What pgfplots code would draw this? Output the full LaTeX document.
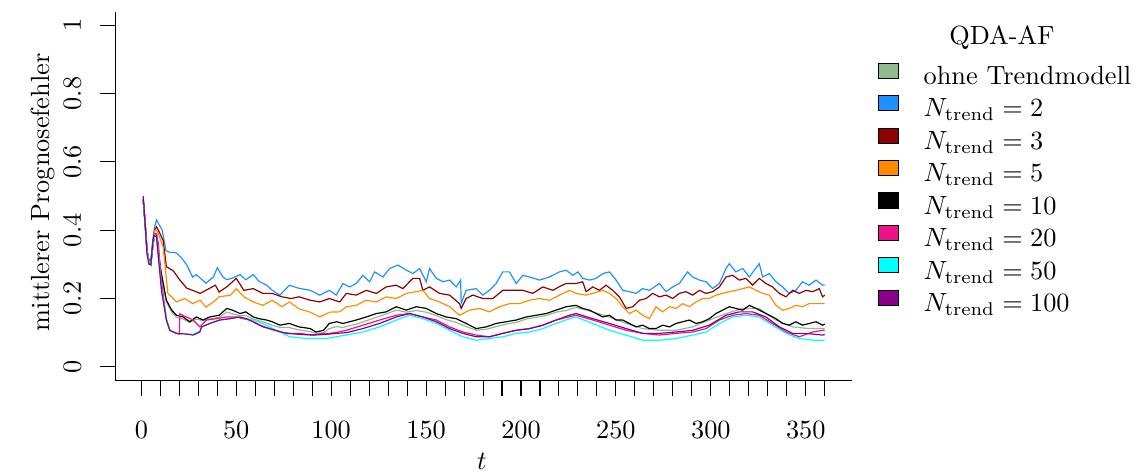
\documentclass[border=0pt]{standalone}
\usepackage{pgfplots}
\pgfplotsset{compat=1.18}
\definecolor{cOhne}{RGB}{143,188,143}
\definecolor{cTwo}{RGB}{30,144,255}
\definecolor{cThree}{RGB}{139,0,0}
\definecolor{cFive}{RGB}{255,140,0}
\definecolor{cTwenty}{RGB}{238,18,137}
\definecolor{cFifty}{RGB}{0,255,255}
\definecolor{cHundred}{RGB}{139,0,139}

\begin{document}
\begin{tikzpicture}
\begin{axis}[
  name=ax, at={(0,0)}, anchor=south west,
  scale only axis, width=279.9pt, height=140.3pt,
  xmin=-13.36, xmax=374.36, ymin=-0.04, ymax=1.04,
  axis x line*=bottom, axis y line*=left,
  axis line style={-, line width=0.4pt},
  tick align=outside, major tick length=6pt, minor tick length=6pt,
  tick style={black, line width=0.4pt},
  xtick={0,50,...,350},
  minor xtick={10,20,30,40,60,70,80,90,110,120,130,140,160,170,180,190,210,220,230,240,260,270,280,290,310,320,330,340,360},
  ytick={0,0.2,0.4,0.6,0.8,1},
  xticklabel style={anchor=base}, xticklabel shift=15.9pt,
  yticklabel style={rotate=90, anchor=base}, yticklabel shift=7.3pt,
  xlabel={$t$}, ylabel={mittlerer Prognosefehler},
  every axis x label/.style={at={(rel axis cs:0.497,-0.240)}, anchor=base},
  every axis y label/.style={at={(rel axis cs:-0.0897,0.51)}, rotate=90, anchor=base},
  legend style={at={(rel axis cs:1.0353,0.8618)}, anchor=north west, draw=none, fill=none,
    inner sep=0pt, outer sep=0pt, row sep=0pt, column sep=9.4pt,
    nodes={inner sep=0pt, text height=8.2pt, text depth=4pt}},
  legend cell align=left,
  legend image code/.code={\filldraw[#1, draw=black, line width=0.4pt] (0pt,0.35pt) rectangle (7.6pt,6.05pt);},
  every axis plot/.append style={line width=0.45pt},
]
% ohne Trendmodell
\addplot[cOhne] coordinates {(1,0.49) (2,0.42) (3,0.34) (4,0.31) (5,0.30) (6,0.35) (7,0.39) (8,0.39) (9,0.32) (10.6,0.26) (13.2,0.19) (16,0.16) (18.5,0.145) (22,0.14) (25.5,0.13) (29,0.14) (32.5,0.135) (36,0.14) (41,0.145) (45,0.16) (48,0.155) (52,0.15) (55,0.15) (59,0.14) (62,0.135) (66,0.128) (69,0.122) (73,0.115) (78,0.115) (83,0.108) (89,0.103) (92,0.098) (96,0.1) (99,0.112) (103,0.118) (106,0.115) (113.2,0.125) (118.5,0.135) (123.8,0.145) (129,0.155) (134.3,0.166) (139.6,0.16) (144.8,0.165) (150.1,0.16) (155.4,0.15) (160.6,0.138) (165.9,0.13) (171.1,0.118) (176.4,0.107) (181.7,0.11) (186.9,0.118) (192.2,0.125) (197.5,0.13) (202.7,0.14) (208,0.145) (213.2,0.15) (218.5,0.16) (223.8,0.165) (229,0.174) (237.8,0.161) (246.6,0.146) (255.4,0.127) (264.1,0.112) (272.9,0.107) (281.7,0.107) (290.4,0.117) (299.2,0.137) (308,0.156) (316.8,0.171) (325.5,0.171) (334.3,0.137) (343.1,0.117) (351.8,0.112) (358.9,0.112) (360,0.112)};
\addlegendentry{ohne Trendmodell}
% N = 2
\addplot[cTwo] coordinates {(1,0.49) (2,0.42) (3,0.34) (4,0.31) (5,0.31) (6,0.37) (7,0.41) (8,0.43) (9,0.42) (11,0.40) (12,0.37) (13,0.34) (15,0.335) (17,0.335) (18.5,0.333) (21,0.32) (24,0.298) (27,0.263) (29,0.27) (31,0.26) (34,0.245) (38,0.263) (40,0.29) (43,0.263) (45,0.255) (48,0.26) (52,0.27) (55,0.255) (59,0.27) (62,0.25) (66,0.239) (69,0.224) (73,0.21) (78,0.239) (83,0.23) (89,0.224) (94,0.21) (99,0.224) (102.7,0.21) (106.2,0.244) (109.7,0.234) (113.2,0.244) (116.7,0.268) (120.3,0.249) (122.9,0.278) (127.3,0.263) (130.8,0.288) (135.2,0.298) (139.6,0.283) (143.1,0.273) (146.6,0.288) (150.1,0.249) (151.8,0.288) (155.4,0.259) (158.9,0.249) (162.4,0.254) (165.9,0.234) (168.2,0.254) (168.5,0.186) (171.1,0.224) (176.4,0.229) (179.9,0.21) (183.4,0.224) (186.9,0.244) (190.4,0.278) (193.9,0.278) (197.5,0.244) (201,0.268) (204.5,0.263) (209.7,0.254) (215,0.263) (220.3,0.278) (223.8,0.283) (227.3,0.268) (230,0.278) (232.5,0.259) (236.1,0.254) (239.6,0.259) (243.1,0.273) (246.6,0.278) (250.1,0.254) (253.6,0.224) (257.1,0.22) (260.6,0.215) (264.1,0.229) (267.6,0.224) (272.9,0.244) (276.4,0.22) (279.9,0.234) (283.4,0.244) (287.8,0.278) (290.4,0.263) (294,0.254) (297.5,0.249) (301,0.229) (304.5,0.244) (308,0.288) (309.7,0.302) (313.2,0.278) (316.8,0.288) (320.3,0.263) (322.9,0.283) (325.5,0.302) (327.3,0.263) (330.8,0.273) (334.3,0.249) (337.8,0.234) (341.3,0.215) (344.8,0.224) (348.3,0.249) (351.8,0.239) (355.4,0.254) (358.9,0.239) (360,0.24)};
\addlegendentry{$N_{\mathrm{trend}}=2$}
% N = 3
\addplot[cThree] coordinates {(1,0.49) (2,0.42) (3,0.34) (4,0.31) (5,0.30) (6,0.36) (7,0.40) (8,0.41) (9,0.40) (11.5,0.37) (13.2,0.293) (16,0.284) (17,0.28) (20.3,0.254) (24,0.23) (27,0.224) (31,0.215) (34,0.224) (39,0.239) (41,0.219) (45,0.234) (50,0.259) (54,0.224) (59,0.229) (64,0.215) (69,0.215) (74,0.205) (79,0.2) (83,0.205) (89,0.195) (94,0.19) (99,0.2) (104.5,0.19) (108,0.215) (113.2,0.21) (118.5,0.224) (123.8,0.215) (129,0.234) (134.3,0.239) (137.8,0.229) (143,0.259) (146.6,0.259) (148.3,0.224) (151.8,0.234) (157.1,0.215) (162.4,0.21) (167.6,0.185) (168.5,0.171) (171.1,0.2) (174.6,0.21) (179.9,0.2) (185.2,0.2) (190.4,0.224) (195.7,0.224) (201,0.224) (206.2,0.215) (211.5,0.234) (216.8,0.224) (220.3,0.235) (223.8,0.244) (229,0.244) (232.5,0.249) (234.3,0.22) (237.8,0.234) (241.3,0.224) (244.8,0.239) (248.3,0.224) (251.8,0.205) (255.4,0.171) (258.9,0.176) (262.4,0.195) (265.9,0.2) (269.4,0.215) (272.9,0.205) (276.4,0.21) (279.9,0.2) (283.4,0.215) (286.9,0.22) (290.4,0.21) (294,0.224) (297.5,0.215) (301,0.22) (304.5,0.234) (308,0.263) (311.5,0.268) (315,0.254) (318.5,0.259) (322,0.239) (325.5,0.259) (329,0.244) (332.5,0.234) (336.1,0.215) (339.6,0.205) (343.1,0.224) (346.6,0.215) (350.1,0.224) (353.6,0.22) (357.1,0.229) (358.9,0.205) (360,0.21)};
\addlegendentry{$N_{\mathrm{trend}}=3$}
% N = 5
\addplot[cFive] coordinates {(1,0.49) (2,0.42) (3,0.34) (4,0.31) (5,0.30) (6,0.35) (7,0.40) (8,0.40) (9,0.39) (11.5,0.35) (14,0.215) (16,0.205) (18.5,0.19) (23,0.2) (27,0.185) (31,0.195) (34,0.175) (38,0.19) (41,0.205) (47,0.21) (50,0.229) (54,0.205) (59,0.19) (64,0.18) (69,0.195) (74,0.176) (78,0.19) (83,0.17) (89,0.16) (94,0.146) (99,0.16) (104.5,0.161) (108,0.176) (113.2,0.18) (118.5,0.195) (123.8,0.19) (129,0.205) (134.3,0.2) (139.6,0.215) (144.8,0.22) (148.3,0.224) (151.8,0.2) (157.1,0.19) (162.4,0.176) (167.6,0.151) (172.9,0.166) (178.2,0.171) (183.4,0.161) (188.7,0.176) (194,0.185) (199.2,0.185) (204.5,0.195) (209.7,0.2) (215,0.195) (220.3,0.21) (225.5,0.224) (229,0.215) (234.3,0.21) (237.8,0.215) (243.1,0.224) (246.6,0.215) (250.1,0.2) (253.6,0.176) (257.1,0.156) (260.6,0.166) (264.1,0.151) (267.6,0.141) (271.1,0.176) (274.6,0.161) (278.2,0.176) (281.7,0.171) (285.2,0.185) (288.7,0.176) (292.2,0.19) (295.7,0.2) (299.2,0.2) (302.7,0.21) (306.2,0.215) (309.7,0.22) (313.2,0.224) (316.8,0.229) (320.3,0.234) (323.8,0.224) (327.3,0.215) (330.8,0.21) (334.3,0.18) (337.8,0.166) (341.3,0.171) (344.8,0.18) (348.3,0.176) (351.8,0.185) (358.9,0.185) (360,0.185)};
\addlegendentry{$N_{\mathrm{trend}}=5$}
% N = 10
\addplot[black] coordinates {(1,0.49) (2,0.42) (3,0.34) (4,0.31) (5,0.30) (6,0.35) (7,0.39) (8,0.39) (9,0.33) (10.6,0.273) (13.2,0.195) (16,0.166) (18.5,0.151) (22,0.146) (25.5,0.132) (29,0.146) (32.5,0.137) (36,0.146) (41,0.151) (45,0.171) (48,0.166) (52,0.156) (55,0.161) (59,0.146) (62,0.141) (66,0.137) (69,0.132) (73,0.122) (78,0.127) (83,0.117) (89,0.112) (92,0.102) (96,0.107) (99,0.127) (103,0.132) (106.2,0.127) (113.2,0.137) (118.5,0.146) (123.8,0.156) (129,0.161) (134.3,0.176) (139.6,0.166) (144.8,0.176) (150.1,0.171) (155.4,0.156) (160.6,0.146) (165.9,0.141) (171.1,0.127) (176.4,0.112) (181.7,0.117) (186.9,0.127) (192.2,0.132) (197.5,0.137) (202.7,0.146) (208,0.151) (213.2,0.156) (218.5,0.166) (223.8,0.176) (229,0.18) (232.5,0.171) (236.1,0.166) (239.6,0.156) (243.1,0.146) (246.6,0.151) (250.1,0.137) (253.6,0.137) (257.1,0.127) (260.6,0.117) (264.1,0.122) (267.6,0.112) (271.1,0.112) (274.6,0.122) (278.2,0.117) (281.7,0.127) (285.2,0.132) (288.7,0.137) (292.2,0.127) (295.7,0.132) (299.2,0.141) (302.7,0.156) (306.2,0.166) (309.7,0.176) (313.2,0.171) (316.8,0.166) (320.3,0.18) (323.8,0.171) (327.3,0.161) (330.8,0.151) (334.3,0.141) (337.8,0.127) (341.3,0.122) (344.8,0.132) (348.3,0.122) (351.8,0.127) (355.4,0.132) (358.9,0.122) (360,0.125)};
\addlegendentry{$N_{\mathrm{trend}}=10$}
% N = 20
\addplot[cTwenty] coordinates {(1,0.49) (2,0.42) (3,0.34) (4,0.31) (5,0.30) (6,0.35) (7,0.39) (8,0.39) (9,0.36) (10.6,0.25) (13.2,0.14) (15,0.107) (18.5,0.098) (20,0.096) (20.3,0.156) (22,0.15) (23.8,0.146) (27.3,0.137) (30.8,0.117) (34.3,0.137) (39.6,0.141) (44.8,0.146) (50.1,0.146) (53.6,0.141) (57.1,0.137) (62.4,0.122) (67.6,0.112) (72.9,0.102) (78.2,0.098) (83.4,0.098) (90.4,0.093) (95.7,0.098) (99.2,0.098) (104,0.102) (108,0.107) (116.7,0.122) (125.5,0.137) (134.3,0.151) (141.3,0.156) (148.3,0.146) (155.4,0.137) (162.4,0.117) (169.4,0.102) (176.4,0.093) (183.4,0.088) (190.4,0.098) (197.5,0.107) (204.5,0.112) (211.5,0.122) (218.5,0.137) (225,0.146) (229,0.151) (237.8,0.137) (246.6,0.122) (255.4,0.107) (264.1,0.098) (272.9,0.093) (281.7,0.098) (290.4,0.102) (297.5,0.112) (304.5,0.137) (311.5,0.151) (318.5,0.156) (325.5,0.151) (332.5,0.127) (339.6,0.102) (346.6,0.088) (353.6,0.102) (358.9,0.107) (360,0.107)};
\addlegendentry{$N_{\mathrm{trend}}=20$}
% N = 50
\addplot[cFifty] coordinates {(1,0.49) (2,0.42) (3,0.34) (4,0.31) (5,0.30) (6,0.35) (7,0.385) (8,0.38) (9,0.33) (10.6,0.23) (13.2,0.14) (15,0.107) (18.5,0.098) (23.8,0.096) (27.3,0.095) (30.8,0.105) (32,0.117) (36,0.127) (41,0.137) (47,0.141) (52,0.146) (55,0.141) (59,0.137) (66,0.122) (72.9,0.102) (78.2,0.088) (86.9,0.083) (97.5,0.083) (104.5,0.09) (108,0.093) (116.7,0.102) (125.5,0.117) (134.3,0.137) (141.3,0.151) (148.3,0.141) (155.4,0.127) (162.4,0.107) (169.4,0.088) (176.4,0.078) (183.4,0.083) (190.4,0.088) (197.5,0.098) (204.5,0.102) (211.5,0.112) (218.5,0.127) (225.5,0.141) (229,0.146) (237.8,0.127) (246.6,0.107) (255.4,0.093) (264.1,0.078) (272.9,0.078) (281.7,0.083) (290.4,0.093) (297.5,0.102) (304.5,0.127) (311.5,0.146) (318.5,0.151) (325.5,0.146) (332.5,0.122) (339.6,0.098) (346.6,0.083) (353.6,0.078) (358.9,0.078) (360,0.078)};
\addlegendentry{$N_{\mathrm{trend}}=50$}
% N = 100
\addplot[cHundred] coordinates {(1,0.50) (2,0.42) (3,0.33) (4,0.30) (5,0.30) (6,0.36) (6.6,0.385) (8,0.38) (9,0.32) (10.6,0.224) (13.2,0.137) (15,0.107) (18.5,0.098) (23.8,0.096) (27.3,0.093) (30.8,0.102) (31.7,0.117) (36.1,0.127) (41.3,0.137) (46.6,0.141) (51.8,0.146) (55.4,0.141) (58.9,0.132) (64.1,0.117) (69.4,0.109) (76.4,0.098) (83.4,0.095) (90.4,0.093) (97.5,0.095) (102.7,0.098) (108,0.1) (116.7,0.112) (125.5,0.127) (134.3,0.146) (141.3,0.156) (148.3,0.146) (155.4,0.132) (162.4,0.112) (169.4,0.098) (176.4,0.088) (183.4,0.088) (190.4,0.098) (197.5,0.107) (204.5,0.112) (211.5,0.122) (218.5,0.137) (225.5,0.151) (229,0.156) (237.8,0.141) (246.6,0.127) (255.4,0.112) (264.1,0.098) (272.9,0.098) (281.7,0.102) (290.4,0.107) (299.2,0.122) (308,0.151) (315,0.161) (322,0.161) (329,0.146) (336.1,0.117) (343.1,0.098) (350.1,0.098) (358.9,0.093) (360,0.095)};
\addlegendentry{$N_{\mathrm{trend}}=100$}
\end{axis}
\node[anchor=base] at (336.9pt,127.9pt) {QDA-AF};
\pgfresetboundingbox
\path[use as bounding box] (-44.1pt,-35.2pt) rectangle (387.9pt,144.7pt);
\end{tikzpicture}
\end{document}
